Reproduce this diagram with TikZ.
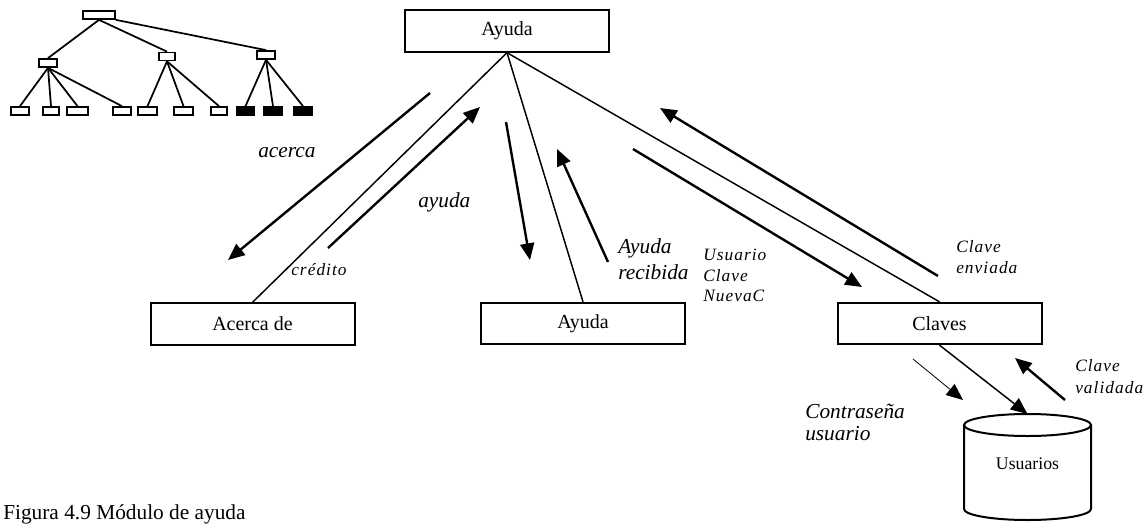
\documentclass[tikz,border=0pt]{standalone}
\usepackage{fontspec}
\setmainfont{Liberation Serif}
\usetikzlibrary{arrows.meta}

\tikzset{
  module/.style={draw, line width=1.5pt, minimum width=153pt, minimum height=31pt,
                 inner sep=0pt, font=\fontsize{15}{18}\selectfont},
  link/.style={line width=1.1pt},
  flow/.style={line width=1.8pt, -{Triangle[length=12.5pt,width=10.5pt]}},
  thinflow/.style={line width=0.6pt, -{Triangle[length=12.5pt,width=10.5pt]}},
  biglbl/.style={anchor=base west, inner sep=0pt, font=\fontsize{16}{19}\selectfont\itshape},
  smalllbl/.style={anchor=base west, inner sep=0pt,
                   font=\fontsize{13}{16}\selectfont\itshape\addfontfeature{LetterSpace=6}},
  leaf/.style={draw, line width=1.3pt, minimum height=6pt, inner sep=0pt},
  fullleaf/.style={leaf, fill=black},
  branch/.style={line width=1.3pt}
}

\begin{document}
\begin{tikzpicture}[x=0.75pt, y=-0.75pt]
\useasboundingbox (0,0) rectangle (1146,525);

% ---- small hierarchy icon ----
\node[leaf, minimum width=24pt] (root) at (99,15) {};
\node[leaf, minimum width=13.5pt] (ta) at (48,63) {};
\node[leaf, minimum width=12pt]   (tb) at (167,56.5) {};
\node[leaf, minimum width=13.5pt] (tc) at (266,55) {};
\node[leaf, minimum width=13.5pt] (l1) at (20,111) {};
\node[leaf, minimum width=12pt]   (l2) at (51,111) {};
\node[leaf, minimum width=15.5pt] (l3) at (77.5,111) {};
\node[leaf, minimum width=13.5pt] (l4) at (122,111) {};
\node[leaf, minimum width=14pt]   (l5) at (147.5,111) {};
\node[leaf, minimum width=14pt]   (l6) at (183.5,111) {};
\node[leaf, minimum width=12pt]   (l7) at (219,111) {};
\node[fullleaf, minimum width=12.5pt] (l8) at (245.5,111) {};
\node[fullleaf, minimum width=13.5pt] (l9) at (273,111) {};
\node[fullleaf, minimum width=13.5pt] (l10) at (303,111) {};
\draw[branch] (root.south) -- (ta.north);
\draw[branch] (root.south) -- (tb.north);
\draw[branch] (root.south east) -- (tc.north);
\foreach \c in {l1,l2,l3,l4} \draw[branch] (ta.south) -- (\c.north);
\foreach \c in {l5,l6,l7} \draw[branch] (tb.south) -- (\c.north);
\foreach \c in {l8,l9,l10} \draw[branch] (tc.south) -- (\c.north);

% ---- modules ----
\node[module] (top)    at (507,31)      {Ayuda};
\node[module] (acerca) at (252.5,324)   {Acerca de};
\node[module] (mid)    at (583,323.5)   {Ayuda};
\node[module] (claves) at (939.5,323.5) {Claves};

% ---- user store ----
\draw[line width=1.5pt] (964,425) -- (964,509)
  arc[start angle=180, end angle=0, x radius=63.5, y radius=11] -- (1091,425);
\draw[line width=1.5pt] (1027.5,425) ellipse[x radius=63.5, y radius=11];
\coordinate (usrtop) at (1027.5,414);
\node[font=\fontsize{13.3}{16}\selectfont] (usr) at (1027.5,464) {Usuarios};

% ---- structure links ----
\draw[link] (top.south) -- (acerca.north);
\draw[link] (top.south) -- (mid.north);
\draw[link] (top.south) -- (claves.north);
\draw[line width=1.1pt, -{Triangle[length=12.5pt,width=10.5pt]}] (claves.south) -- (usrtop);

% ---- data flows ----
\coordinate (a1) at (430,93);   \coordinate (a2) at (228,260);
\coordinate (b1) at (328,248);  \coordinate (b2) at (480,107);
\coordinate (c1) at (506,122);  \coordinate (c2) at (530,260);
\coordinate (d1) at (608,262);  \coordinate (d2) at (557,149);
\coordinate (e1) at (633,149);  \coordinate (e2) at (862,287);
\coordinate (f1) at (938,276);  \coordinate (f2) at (660,108);
\coordinate (g1) at (913,359);  \coordinate (g2) at (963,400);
\coordinate (h1) at (1065,400); \coordinate (h2) at (1015,358);
\draw[flow] (a1) -- (a2);
\draw[flow] (b1) -- (b2);
\draw[flow] (c1) -- (c2);
\draw[flow] (d1) -- (d2);
\draw[flow] (e1) -- (e2);
\draw[flow] (f1) -- (f2);
\draw[thinflow] (g1) -- (g2);
\draw[flow] (h1) -- (h2);

% ---- flow labels ----
\node[biglbl] (lacerca) at (258,157) {acerca};
\node[biglbl] (layuda) at (418,207) {ayuda};
\node[smalllbl] (lcred) at (291,275) {crédito};
\node[biglbl] (lrec1) at (618,253) {Ayuda};
\node[biglbl] (lrec2) at (618,279) {recibida};
\node[smalllbl] (lu1) at (703,260) {Usuario};
\node[smalllbl] (lu2) at (703,281) {Clave};
\node[smalllbl] (lu3) at (703,301) {NuevaC};
\node[smalllbl] (le1) at (956,252) {Clave};
\node[smalllbl] (le2) at (956,273) {enviada};
\node[smalllbl] (lv1) at (1075,371) {Clave};
\node[smalllbl] (lv2) at (1075,393) {validada};
\node[biglbl] (lc1) at (805,418) {Contraseña};
\node[biglbl] (lc2) at (805,440) {usuario};

% ---- caption ----
\node[anchor=base west, inner sep=0pt, font=\fontsize{16}{19}\selectfont] (cap) at (3,519)
  {Figura 4.9 Módulo de ayuda};
\end{tikzpicture}
\end{document}
